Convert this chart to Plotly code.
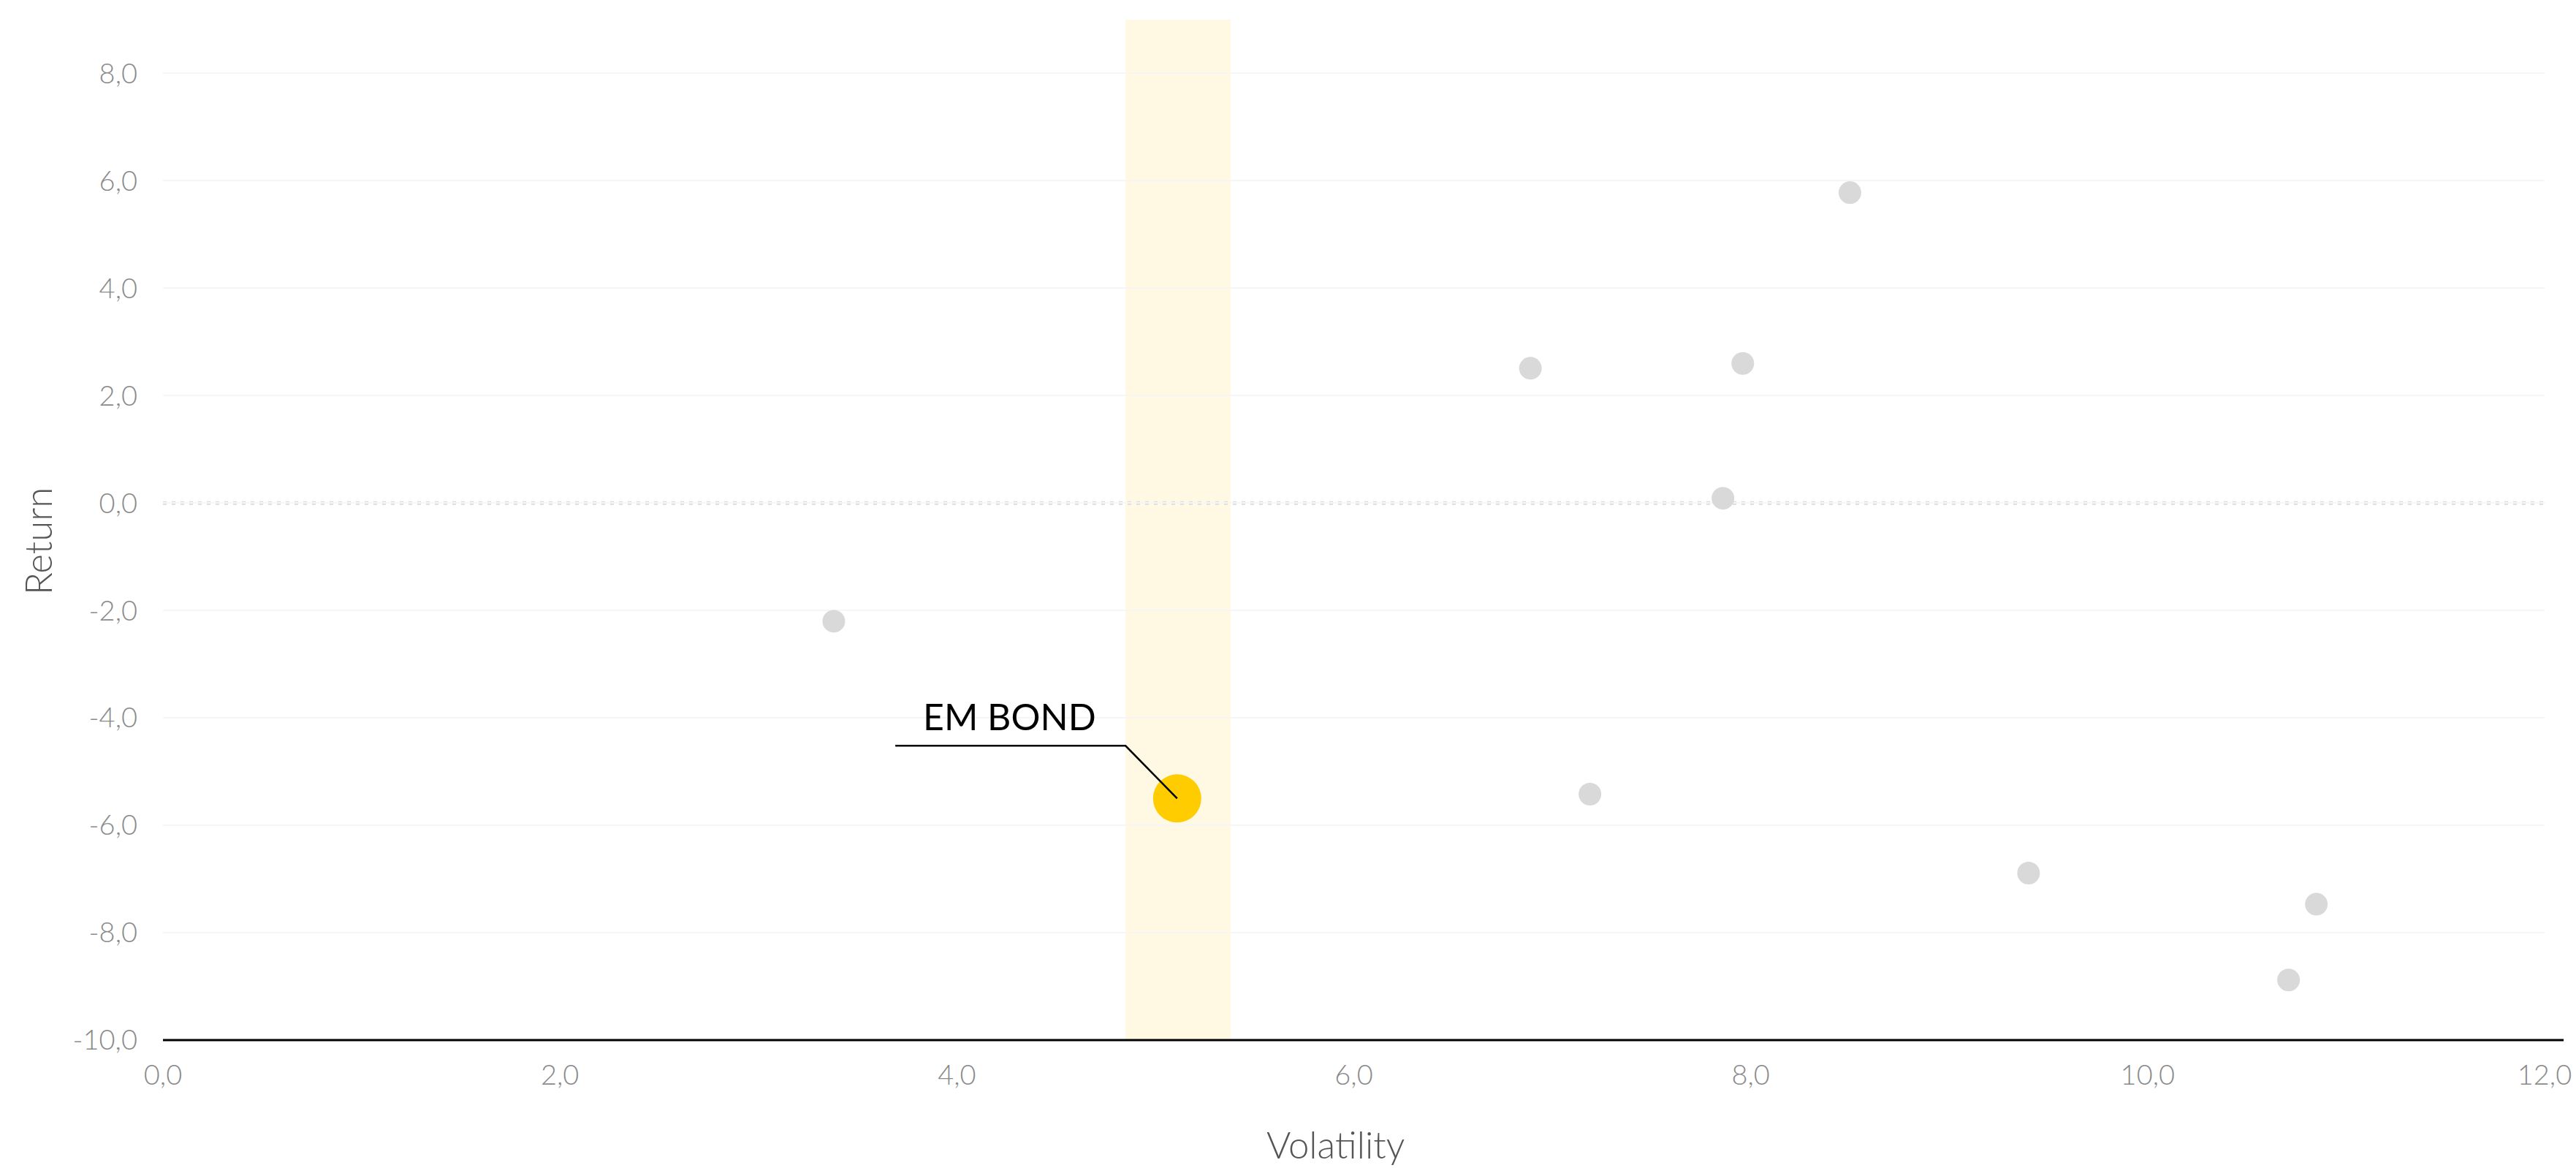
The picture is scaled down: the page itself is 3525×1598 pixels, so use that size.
import plotly.graph_objects as go

# ---- data ----
other_vol = [3.38, 6.89, 7.19, 7.86, 7.96, 8.50, 9.40, 10.71, 10.85]
other_ret = [-2.20, 2.51, -5.42, 0.09, 2.60, 5.78, -6.89, -8.88, -7.47]
highlight_name = "EM BOND"
highlight_vol = [5.11]
highlight_ret = [-5.50]
band_range = [4.85, 5.38]
x_ticks = [0, 2, 4, 6, 8, 10, 12]
y_ticks = [-10, -8, -6, -4, -2, 0, 2, 4, 6, 8]
x_ticklabels = ["0,0", "2,0", "4,0", "6,0", "8,0", "10,0", "12,0"]
y_ticklabels = ["-10,0", "-8,0", "-6,0", "-4,0", "-2,0", "0,0", "2,0", "4,0", "6,0", "8,0"]

FONT = "Lato"
W, H = 3525, 1598
ML, MR, MT, MB = 223, 43, 27, 175

fig = go.Figure()

fig.add_trace(go.Scatter(
    x=other_vol, y=other_ret, mode="markers",
    marker=dict(size=31, color="#d9d9d9", line=dict(width=0)),
    hoverinfo="skip", showlegend=False))

fig.add_trace(go.Scatter(
    x=highlight_vol, y=highlight_ret, mode="markers",
    marker=dict(size=66, color="#ffcc00", line=dict(width=0)),
    hoverinfo="skip", showlegend=False))

# highlight band
fig.add_shape(type="rect", xref="x", yref="y domain",
              x0=band_range[0], x1=band_range[1], y0=0, y1=1,
              fillcolor="#fff8e3", line=dict(width=0), layer="below")

# dotted zero line
fig.add_shape(type="line", xref="x domain", yref="y",
              x0=0, x1=1, y0=0, y1=0,
              line=dict(color="#dcdcdc", width=5, dash="5px,7px"), layer="below")

# bottom axis line
fig.add_shape(type="line", xref="x domain", yref="y domain",
              x0=0, x1=1.008, y0=0, y1=0,
              line=dict(color="#000000", width=3), layer="above")

# leader line for the highlighted point (offsets relative to the point)
hx, hy = highlight_vol[0], highlight_ret[0]
knee_x, knee_y = hx - 0.26, hy + 0.98
start_x = hx - 1.42
fig.add_shape(type="path", xref="x", yref="y",
              path=f"M {start_x} {knee_y} L {knee_x} {knee_y} L {hx} {hy}",
              line=dict(color="#000000", width=2.5), layer="above")

fig.add_annotation(x=hx - 0.845, y=hy + 1.53, xref="x", yref="y",
                   text=highlight_name, showarrow=False,
                   xanchor="center", yanchor="middle",
                   font=dict(family=FONT, size=50, color="#000000"))

# axis titles
fig.add_annotation(x=0, y=0.4885, xref="paper", yref="paper", xshift=-172,
                   text="Return", showarrow=False, textangle=-90,
                   xanchor="center", yanchor="middle",
                   font=dict(family=FONT, size=51, color="#555555", weight=300))
fig.add_annotation(x=0.4922, y=0, xref="paper", yref="paper", yshift=-142,
                   text="Volatility", showarrow=False,
                   xanchor="center", yanchor="middle",
                   font=dict(family=FONT, size=51, color="#555555", weight=300))

fig.update_xaxes(range=[0, 12], tickvals=x_ticks, ticktext=x_ticklabels,
                 showgrid=False, zeroline=False, showline=False, ticks="",
                 ticklabelstandoff=22,
                 tickfont=dict(family=FONT, size=38, color="#8a8a8a", weight=300))
fig.update_yaxes(range=[-10, 9], tickvals=y_ticks, ticktext=y_ticklabels,
                 showgrid=True, gridcolor="#f6f6f6", gridwidth=2,
                 zeroline=False, showline=False, ticks="",
                 ticklabelstandoff=34,
                 tickfont=dict(family=FONT, size=38, color="#8a8a8a", weight=300))

fig.update_layout(width=W, height=H,
                  margin=dict(l=ML, r=MR, t=MT, b=MB, autoexpand=False),
                  paper_bgcolor="#ffffff", plot_bgcolor="#ffffff",
                  showlegend=False, hovermode=False)

fig.write_html("out.html",
               config={"displayModeBar": False, "staticPlot": True},
               post_script="document.body.style.margin='0';"
                           "document.body.style.overflow='hidden';")
